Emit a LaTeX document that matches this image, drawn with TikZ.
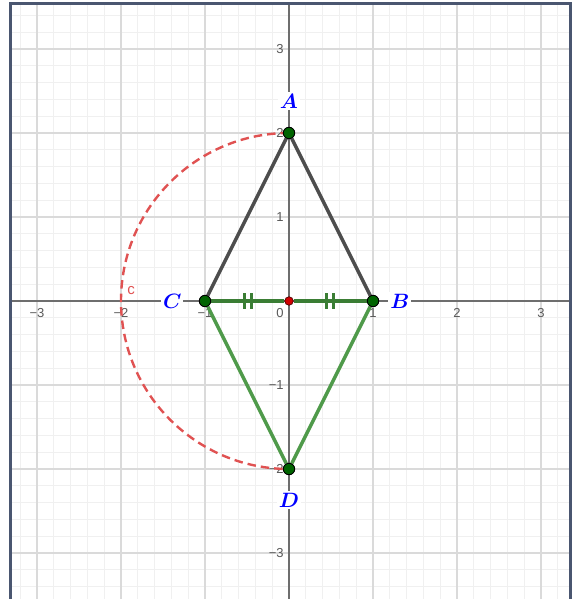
\documentclass[tikz,border=0pt]{standalone}
\usepackage{amsmath}
\usepackage{fontspec}
\setsansfont{Liberation Sans}
\usepackage{tikz}
\usetikzlibrary{calc}
\pgfdeclarelayer{background}
\pgfsetlayers{background,main}
\definecolor{framecol}{HTML}{4A5670}
\definecolor{minorgrid}{HTML}{F0F0F0}
\definecolor{majorgrid}{HTML}{DADADA}
\definecolor{axiscol}{HTML}{6E6E6E}
\definecolor{circcol}{HTML}{E05252}
\definecolor{sidegray}{HTML}{4D4D4D}
\definecolor{basegreen}{HTML}{3A7D34}
\definecolor{sidegreen}{HTML}{4F9A4A}
\definecolor{ptgreen}{HTML}{006400}
\definecolor{ptred}{HTML}{D10000}

\begin{document}
\begin{tikzpicture}[x=84pt, y=84pt,
      pt/.style={circle, draw=black, fill=ptgreen, line width=0.9pt, inner sep=0pt, minimum size=11.5pt},
      midpt/.style={circle, draw=black!70!red, fill=ptred, line width=0.7pt, inner sep=0pt, minimum size=8.5pt},
      lbl/.style={fill=white, text=blue, inner sep=2pt, font=\fontsize{21}{21}\selectfont},
      ticklbl/.style={text=black!65, inner sep=1pt, font=\sffamily\fontsize{13}{13}\selectfont},
      grayside/.style={draw=sidegray, line width=3.4pt},
      greenside/.style={draw=sidegreen, line width=3.4pt},
      baseside/.style={draw=basegreen, line width=3.4pt},
      hatch/.style={draw=basegreen, line width=3pt}]
      \useasboundingbox (-3.4405,-3.5476) rectangle (3.3929,3.5833);

      \node (A) [pt] at (0,2) {};
      \node (B) [pt] at (1,0) {};
      \node (C) [pt] at (-1,0) {};
      \node (D) [pt] at (0,-2) {};
      \node (O) [midpt] at (0,0) {};

      \begin{pgfonlayer}{background}
      \draw[minorgrid, line width=1pt, step=0.2] (-3.315,-3.6) grid (3.357,3.536);
      \draw[majorgrid, line width=1.3pt, step=1] (-3.315,-3.6) grid (3.357,3.536);
      \draw[axiscol, line width=1.6pt] (-3.315,0) -- (3.357,0);
      \draw[axiscol, line width=1.6pt] (0,-3.6) -- (0,3.536);
      \draw[framecol, line width=3pt] (-3.315,-3.6) -- (-3.315,3.536) -- (3.357,3.536) -- (3.357,-3.6);
      \foreach \k/\t in {-3/−3,-2/−2,-1/−1,1/1,2/2,3/3}
        \node[ticklbl, anchor=north] at (\k,-0.07) {\t};
      \foreach \k/\t in {-3/−3,-2/−2,-1/−1,1/1,2/2,3/3}
        \node[ticklbl, anchor=east] at (-0.05,\k) {\t};
      \node[ticklbl, anchor=north east] at (-0.05,-0.07) {0};

      \draw[circcol, line width=2.4pt, dash pattern=on 8.5pt off 5pt] (0,2) arc[start angle=90, end angle=270, radius=2];

      \draw[grayside] (A) -- (C);
      \draw[grayside] (A) -- (B);
      \draw[greenside] (C) -- (D);
      \draw[greenside] (B) -- (D);
      \draw[baseside] (C) -- (O);
      \draw[baseside] (O) -- (B);
      \path (C) -- (O) coordinate[pos=0.5] (t1);
      \path (O) -- (B) coordinate[pos=0.5] (t2);
      \draw[hatch] ($(t1)+(-3.3pt,-8pt)$) -- ++(0,16pt);
      \draw[hatch] ($(t1)+(3.3pt,-8pt)$) -- ++(0,16pt);
      \draw[hatch] ($(t2)+(-3.3pt,-8pt)$) -- ++(0,16pt);
      \draw[hatch] ($(t2)+(3.3pt,-8pt)$) -- ++(0,16pt);
      \end{pgfonlayer}

      \node (clbl) [text=circcol, inner sep=0pt, font=\sffamily\fontsize{15}{15}\selectfont] at (-1.88,0.12) {c};
      \node (Albl) [lbl] at (0,2.38) {$\boldsymbol{A}$};
      \node (Blbl) [lbl] at (1.32,0) {$\boldsymbol{B}$};
      \node (Clbl) [lbl] at (-1.39,0) {$\boldsymbol{C}$};
      \node (Dlbl) [lbl] at (0,-2.37) {$\boldsymbol{D}$};
    \end{tikzpicture}
\end{document}
